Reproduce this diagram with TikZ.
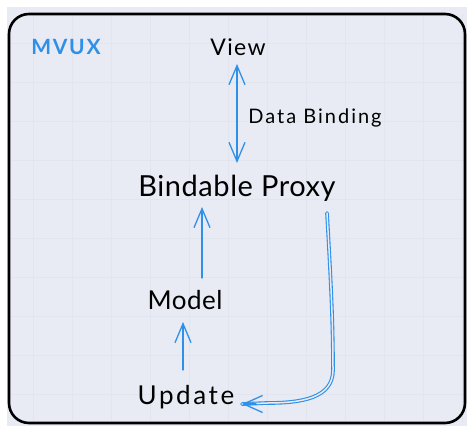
\documentclass[tikz,border=0pt]{standalone}
\usepackage{fontspec}
\setmainfont{Lato}
\usetikzlibrary{arrows.meta,calc}
\definecolor{panel}{HTML}{E8EBF4}
\definecolor{gridc}{HTML}{E1E5EE}
\definecolor{arrowblue}{HTML}{2E90E8}
\newcommand{\handfont}[2]{\fontsize{#1}{#1}\selectfont\addfontfeature{LetterSpace=#2}}
\tikzset{
  lbl/.style={inner sep=0pt, text=black},
  arr/.style={draw=arrowblue, line width=1.3pt, line cap=round, line join=round},
  barb/.tip={Straight Barb[length=19pt, width=16pt, line width=1.3pt]},
}
\begin{document}
\begin{tikzpicture}[x=1pt,y=-1pt]
\useasboundingbox (0,0) rectangle (474,433);
\fill[white] (0,0) rectangle (474,433);
\fill[panel] (7,7) rectangle (467,426);
% grid
\begin{scope}
\clip (9,15) rectangle (464,422);
\foreach \gx in {33,72,111,150,189,228,267,306,345,384,423,462}
  \draw[gridc, line width=0.5pt] (\gx,7) -- (\gx,426);
\foreach \gy in {43,82,121,160,199,238,277,316,355,394}
  \draw[gridc, line width=0.5pt] (7,\gy) -- (467,\gy);
\end{scope}
% frame
\draw[black, line width=2.6pt, rounded corners=20pt] (9,14) rectangle (465,423);

% labels
\node[lbl, text=arrowblue, font=\handfont{21}{8}\bfseries] (mvux) at (66,47) {MVUX};
\node[lbl, font=\handfont{23}{6}] (view) at (238,47) {View};
\node[lbl, font=\handfont{20}{10}] (db) at (315,118) {Data Binding};
\node[lbl, font=\handfont{29}{2}] (bp) at (237,188) {Bindable Proxy};
\node[lbl, font=\handfont{26}{2}] (model) at (185,300) {Model};
\node[lbl, font=\handfont{26}{10}] (upd) at (186,397) {Update};

% connectors
\draw[arr, {barb}-{barb}]
  ($(view.center)+(-1,17)$) -- ($(bp.center)+(0,-25)$);
\draw[arr, -{barb}]
  ($(model.center)+(17,-22)$) -- ($(bp.center)+(-35,19)$);
\draw[arr, -{barb}]
  ($(upd.center)+(-3,-27)$) -- ($(model.center)+(-2,22)$);

\coordinate (cs) at ($(bp.center)+(90,25)$);
\coordinate (ct) at ($(upd.center)+(56,7)$);
\draw[draw=arrowblue, double=panel, double distance=1.5pt, line width=1.1pt, line cap=round]
  (cs) .. controls ($(cs)+(4,70)$) and ($(cs)+(6,110)$) .. ($(cs)+(6,157)$)
  .. controls ($(cs)+(6,185)$) and ($(cs)+(-25,190)$) .. ($(cs)+(-60,190)$) -- (ct);
\draw[arr, line width=1.3pt, -{Straight Barb[length=19pt, width=17pt, line width=1.3pt]}] ($(ct)+(14,0)$) -- (ct);
\end{tikzpicture}
\end{document}
